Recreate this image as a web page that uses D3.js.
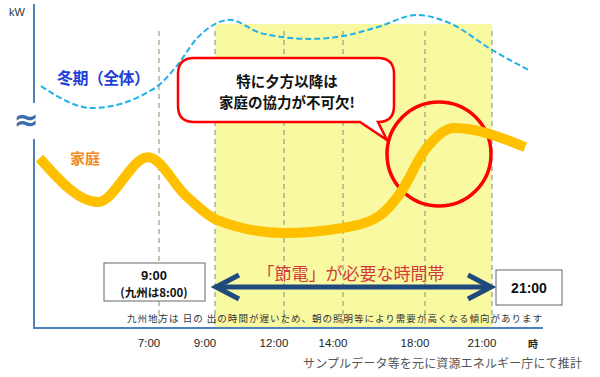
<!DOCTYPE html>
<html>
<head>
<meta charset="utf-8">
<script src="https://cdn.jsdelivr.net/npm/d3@7/dist/d3.min.js"></script>
<style>
  body { margin: 0; background: #fff; }
  svg { display: block; font-family: "Liberation Sans", "Noto Sans CJK JP", sans-serif; }
</style>
</head>
<body>
<svg id="chart" width="600" height="377"></svg>
<script>
// 時刻（目盛）
const tickHours = [7, 9, 12, 14, 18, 21];
const tickLabels = ['7:00', '9:00', '12:00', '14:00', '18:00', '21:00'];

// 節電が必要な時間帯
const peakStart = 9;
const peakEnd = 21;

// 冬期（全体）の需要カーブ（相対値）
const winterHours = [2.75, 4.6, 6.9, 7.6, 8.4, 9.65, 11.0, 12.9, 14, 15.7, 17.6, 19.1, 21.0, 22.5];
const winterKW = [74.9, 68.1, 74.6, 80.8, 90.1, 95.4, 91.3, 89.5, 90.4, 93.2, 96.9, 94.4, 86.1, 79.6];

// 家庭の需要カーブ（相対値）
const homeHours = [2.7, 4.8, 6.6, 8.0, 9.1, 12, 14, 15.7, 16.8, 18.0, 19.3, 22.3];
const homeKW = [52.6, 39.0, 52.9, 40.6, 33.4, 29.4, 31.0, 34.4, 41.8, 55.1, 61.9, 56.0];

// 吹き出しの文言
const calloutLines = ['特に夕方以降は', '家庭の協力が不可欠!'];

const svg = d3.select('#chart');
const jp = '"Noto Sans CJK JP", sans-serif';

// 模式図なので時間軸は区間ごとの線形
const x = d3.scaleLinear()
  .domain([2.5, 7, 9, 12, 14, 18, 21, 23])
  .range([34, 159, 215, 284, 343, 425, 492, 543]);
const y = d3.scaleLinear().domain([0, 100]).range([328, 5]);

// 黄色の帯
svg.append('rect')
  .attr('x', x(peakStart))
  .attr('y', 24)
  .attr('width', x(peakEnd) - x(peakStart))
  .attr('height', y(0) - 24)
  .attr('fill', '#f9f9a1');

// 縦の点線
svg.append('g')
  .selectAll('line')
  .data(tickHours)
  .join('line')
  .attr('x1', d => x(d)).attr('x2', d => x(d))
  .attr('y1', 31).attr('y2', y(0))
  .attr('stroke', '#97ad86')
  .attr('stroke-width', 1.3)
  .attr('stroke-dasharray', '5,4');

// 冬期（全体）
const line = d3.line().curve(d3.curveMonotoneX);
svg.append('path')
  .attr('d', line(winterHours.map((h, i) => [x(h), y(winterKW[i])])))
  .attr('fill', 'none')
  .attr('stroke', '#1eb1ea')
  .attr('stroke-width', 2)
  .attr('stroke-dasharray', '6,3');

// 赤い丸
svg.append('circle')
  .attr('cx', 439).attr('cy', 154).attr('r', 52)
  .attr('fill', 'none')
  .attr('stroke', '#ff0000')
  .attr('stroke-width', 3.5);

// 家庭
svg.append('path')
  .attr('d', line(homeHours.map((h, i) => [x(h), y(homeKW[i])])))
  .attr('fill', 'none')
  .attr('stroke', '#ffc000')
  .attr('stroke-width', 10);

// 吹き出し
const bx0 = 178, bx1 = 394, by0 = 58, by1 = 122, r = 16;
const p = d3.path();
p.moveTo(bx0 + r, by0);
p.lineTo(bx1 - r, by0);
p.quadraticCurveTo(bx1, by0, bx1, by0 + r);
p.lineTo(bx1, by1 - r);
p.quadraticCurveTo(bx1, by1, bx1 - r, by1);
p.lineTo(387, 140);
p.lineTo(360, by1);
p.lineTo(bx0 + r, by1);
p.quadraticCurveTo(bx0, by1, bx0, by1 - r);
p.lineTo(bx0, by0 + r);
p.quadraticCurveTo(bx0, by0, bx0 + r, by0);
p.closePath();
svg.append('path')
  .attr('d', p.toString())
  .attr('fill', '#fff')
  .attr('stroke', '#ff0000')
  .attr('stroke-width', 2.5);

svg.append('g')
  .selectAll('text')
  .data(calloutLines)
  .join('text')
  .attr('x', 287)
  .attr('y', (d, i) => 87 + i * 21)
  .attr('text-anchor', 'middle')
  .attr('font-family', jp)
  .attr('font-size', 14.5).attr('font-weight', 'bold')
  .attr('fill', '#111')
  .text(d => d);

// 軸
const axisColor = '#4f7fbd';
svg.append('line')
  .attr('x1', 34).attr('x2', 34).attr('y1', 4).attr('y2', 103)
  .attr('stroke', axisColor).attr('stroke-width', 2);
svg.append('line')
  .attr('x1', 34).attr('x2', 34).attr('y1', 139).attr('y2', y(0))
  .attr('stroke', axisColor).attr('stroke-width', 2);
svg.append('line')
  .attr('x1', 33).attr('x2', 543).attr('y1', y(0)).attr('y2', y(0))
  .attr('stroke', axisColor).attr('stroke-width', 2);

svg.append('text')
  .attr('x', 26).attr('y', 130)
  .attr('text-anchor', 'middle')
  .attr('font-family', '"DejaVu Sans", sans-serif')
  .attr('font-size', 30).attr('font-weight', 'bold')
  .attr('fill', '#3c6db0')
  .text('≈');

svg.append('text')
  .attr('x', 9).attr('y', 16)
  .attr('font-size', 11)
  .attr('fill', '#333')
  .text('kW');

// 目盛ラベル
svg.append('g')
  .selectAll('text')
  .data(tickHours)
  .join('text')
  .attr('x', d => x(d) - 10)
  .attr('y', 347)
  .attr('text-anchor', 'middle')
  .attr('font-size', 11.5)
  .attr('fill', '#222')
  .text((d, i) => tickLabels[i]);

svg.append('text')
  .attr('x', 533).attr('y', 348)
  .attr('text-anchor', 'middle')
  .attr('font-family', jp)
  .attr('font-size', 10).attr('font-weight', 'bold')
  .attr('fill', '#222')
  .text('時');

// 系列ラベル
svg.append('text')
  .attr('x', 57).attr('y', 84)
  .attr('font-family', jp)
  .attr('font-size', 16).attr('font-weight', 'bold')
  .attr('fill', '#1f3fd6')
  .attr('textLength', 93)
  .text('冬期（全体）');
svg.append('text')
  .attr('x', 70).attr('y', 164)
  .attr('font-family', jp)
  .attr('font-size', 15).attr('font-weight', 'bold')
  .attr('fill', '#f28a1c')
  .text('家庭');

// 時間帯の矢印
const ay = 287;
const arrowColor = '#1f4a7d';
svg.append('line')
  .attr('x1', x(peakStart) + 3).attr('x2', x(peakEnd) - 3)
  .attr('y1', ay).attr('y2', ay)
  .attr('stroke', arrowColor).attr('stroke-width', 5);
svg.append('path')
  .attr('d', `M${x(peakStart) + 24},${ay - 12} L${x(peakStart) + 1},${ay} L${x(peakStart) + 24},${ay + 12}`)
  .attr('fill', 'none').attr('stroke', arrowColor)
  .attr('stroke-width', 5).attr('stroke-linejoin', 'miter');
svg.append('path')
  .attr('d', `M${x(peakEnd) - 24},${ay - 12} L${x(peakEnd) - 1},${ay} L${x(peakEnd) - 24},${ay + 12}`)
  .attr('fill', 'none').attr('stroke', arrowColor)
  .attr('stroke-width', 5).attr('stroke-linejoin', 'miter');

svg.append('text')
  .attr('x', 351).attr('y', 280)
  .attr('text-anchor', 'middle')
  .attr('font-family', jp)
  .attr('font-size', 17)
  .attr('fill', '#d13b3b')
  .text('「節電」が必要な時間帯');

// 開始・終了の箱
svg.append('rect')
  .attr('x', 104).attr('y', 263).attr('width', 101).attr('height', 38)
  .attr('fill', '#fff').attr('stroke', '#666').attr('stroke-width', 1);
svg.append('text')
  .attr('x', 154).attr('y', 280)
  .attr('text-anchor', 'middle')
  .attr('font-size', 13).attr('font-weight', 'bold')
  .attr('fill', '#111')
  .text('9:00');
svg.append('text')
  .attr('x', 154).attr('y', 297)
  .attr('text-anchor', 'middle')
  .attr('font-family', jp)
  .attr('font-size', 11.5).attr('font-weight', 'bold')
  .attr('fill', '#111')
  .text('(九州は8:00)');

svg.append('rect')
  .attr('x', 496).attr('y', 270).attr('width', 66).attr('height', 35)
  .attr('fill', '#fff').attr('stroke', '#666').attr('stroke-width', 1);
svg.append('text')
  .attr('x', 529).attr('y', 293)
  .attr('text-anchor', 'middle')
  .attr('font-size', 14).attr('font-weight', 'bold')
  .attr('fill', '#111')
  .text('21:00');

// 注記
svg.append('text')
  .attr('x', 127).attr('y', 322)
  .attr('font-family', jp)
  .attr('font-size', 9.5)
  .attr('fill', '#333')
  .attr('textLength', 415)
  .text('九州地方は 日の 出の時間が遅いため、朝の照明等により需要が高くなる傾向があります');

svg.append('text')
  .attr('x', 303).attr('y', 368)
  .attr('font-family', jp)
  .attr('font-size', 12)
  .attr('fill', '#555')
  .attr('textLength', 279)
  .text('サンプルデータ等を元に資源エネルギー庁にて推計');
</script>
</body>
</html>
